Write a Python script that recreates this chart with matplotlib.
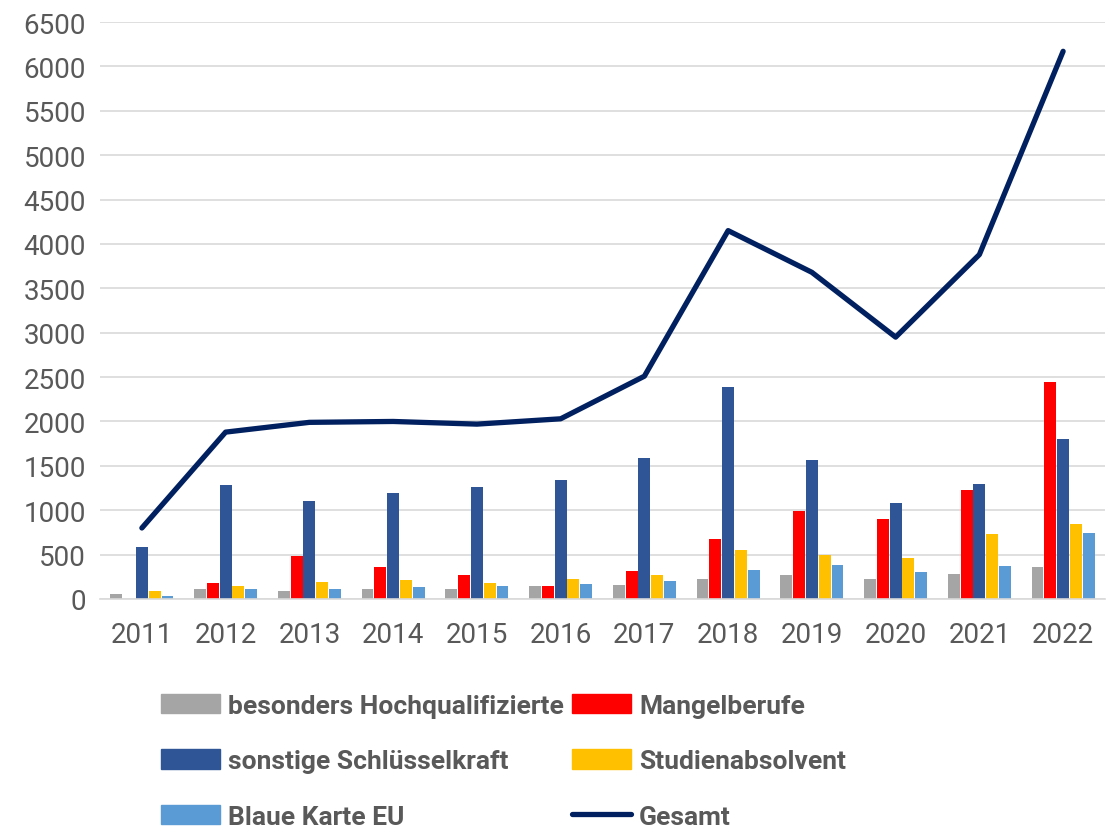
import numpy as np
import matplotlib.pyplot as plt
from matplotlib.patches import Patch
from matplotlib.lines import Line2D

plt.rcParams['font.family'] = ['Roboto', 'DejaVu Sans']

jahre = ['2011', '2012', '2013', '2014', '2015', '2016',
         '2017', '2018', '2019', '2020', '2021', '2022']
hochqualifizierte = [60, 115, 90, 115, 115, 150, 160, 230, 265, 230, 280, 355]
mangelberufe = [0, 185, 480, 355, 265, 150, 320, 680, 990, 900, 1230, 2440]
schluesselkraft = [590, 1280, 1100, 1195, 1260, 1340, 1590, 2390, 1570, 1080, 1300, 1800]
studienabsolvent = [90, 150, 195, 215, 185, 230, 265, 555, 500, 460, 730, 850]
blaue_karte = [35, 115, 115, 140, 150, 170, 205, 330, 380, 300, 370, 740]
gesamt = [800, 1880, 1990, 2000, 1970, 2030, 2510, 4150, 3680, 2950, 3880, 6170]

serien = [
    ('besonders Hochqualifizierte', hochqualifizierte, '#A5A5A5'),
    ('Mangelberufe', mangelberufe, '#FF0000'),
    ('sonstige Schlüsselkraft', schluesselkraft, '#2F5597'),
    ('Studienabsolvent', studienabsolvent, '#FFC000'),
    ('Blaue Karte EU', blaue_karte, '#5B9BD5'),
]

fig = plt.figure(figsize=(11.09, 8.37), dpi=100)
ax = fig.add_axes([100 / 1109, 1 - 600 / 837, 1005 / 1109, 577 / 837])

x = np.arange(len(jahre))
breite = 0.153
for i, (name, werte, farbe) in enumerate(serien):
    ax.bar(x + (i - 2) * breite, werte, breite * 0.93, color=farbe, zorder=2)

ax.plot(x, gesamt, color='#002060', linewidth=3.8, solid_capstyle='round', zorder=3)

ax.set_xlim(-0.5, len(jahre) - 0.5)
ax.set_ylim(0, 6500)
ax.set_yticks(range(0, 6501, 500))
ax.set_xticks(x)
ax.set_xticklabels(jahre)
ax.grid(axis='y', color='#D9D9D9', linewidth=1.2, zorder=0)
for s in ['top', 'right', 'left']:
    ax.spines[s].set_visible(False)
ax.spines['bottom'].set_color('#D9D9D9')
ax.spines['bottom'].set_linewidth(1.2)
ax.tick_params(axis='both', length=0, labelsize=20, labelcolor='#595959')
ax.tick_params(axis='x', pad=16)
ax.tick_params(axis='y', pad=10)

# Legende: zwei Spalten, spaltenweise gefuellt
h = {name: Patch(color=farbe) for name, _, farbe in serien}
linie = Line2D([0], [0], color='#002060', linewidth=3.8, solid_capstyle='round')
handles = [h['besonders Hochqualifizierte'], h['sonstige Schlüsselkraft'], h['Blaue Karte EU'],
           h['Mangelberufe'], h['Studienabsolvent'], linie]
labels = ['besonders Hochqualifizierte', 'sonstige Schlüsselkraft', 'Blaue Karte EU',
          'Mangelberufe', 'Studienabsolvent', 'Gesamt']
leg = fig.legend(handles, labels, ncol=2, loc='upper left',
                 bbox_to_anchor=(150 / 1109, 1 - 684 / 837), frameon=False,
                 borderaxespad=0,
                 prop={'size': 19, 'weight': 'bold'}, labelcolor='#595959',
                 handlelength=2.25, handleheight=0.75, handletextpad=0.3,
                 columnspacing=0.3, labelspacing=1.2)

fig.savefig('out.png', dpi=100)
